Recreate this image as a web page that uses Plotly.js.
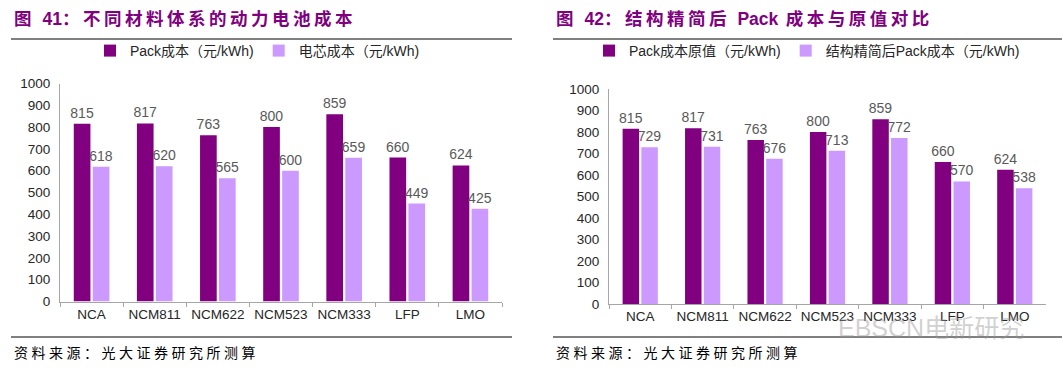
<!DOCTYPE html>
<html>
<head>
<meta charset="utf-8">
<script src="https://cdn.plot.ly/plotly-3.0.1.min.js"></script>
<style>
  html, body { margin: 0; padding: 0; background: #fff; }
  #chart { width: 1062px; height: 376px; }
</style>
</head>
<body>
<div id="chart"></div>
<script>
// ---- data ----
const categories = ['NCA', 'NCM811', 'NCM622', 'NCM523', 'NCM333', 'LFP', 'LMO'];
const packCost = [815, 817, 763, 800, 859, 660, 624];
const cellCost = [618, 620, 565, 600, 659, 449, 425];
const packOriginal = [815, 817, 763, 800, 859, 660, 624];
const packSimplified = [729, 731, 676, 713, 772, 570, 538];

const seriesNames = {
  pack: 'Pack成本（元/kWh)',
  cell: '电芯成本（元/kWh)',
  orig: 'Pack成本原值（元/kWh)',
  simp: '结构精简后Pack成本（元/kWh)'
};
const titleLeft = ['图 ', '41', '：不同材料体系的动力电池成本'];
const titleRight = ['图 ', '42', '：结构精简后 ', 'Pack', ' 成本与原值对比'];
const sourceText = '资料来源：光大证券研究所测算';
const watermark = 'EBSCN电新研究';

// ---- styles ----
const W = 1062, H = 376;
const DARK = '#800080', LIGHT = '#CC99FF';
const FONT = 'Liberation Sans, Arial, Noto Sans CJK SC, sans-serif';
const CJK = 'Noto Sans CJK SC, sans-serif';
const px = v => v / W;
const py = v => 1 - v / H;

function barTrace(y, name, color, xa, ya, legend) {
  return {
    type: 'bar', x: categories, y: y, name: name,
    xaxis: xa, yaxis: ya, legend: legend,
    marker: { color: color, line: { width: 0 } },
    text: y.map(String), textposition: 'outside', cliponaxis: false,
    constraintext: 'none',
    textfont: { family: FONT, size: 14, color: '#595959' },
    hoverinfo: 'skip'
  };
}

const data = [
  barTrace(packCost, seriesNames.pack, DARK, 'x', 'y', 'legend'),
  barTrace(cellCost, seriesNames.cell, LIGHT, 'x', 'y', 'legend'),
  barTrace(packOriginal, seriesNames.orig, DARK, 'x2', 'y2', 'legend2'),
  barTrace(packSimplified, seriesNames.simp, LIGHT, 'x2', 'y2', 'legend2')
];

function xAxis(domain, anchor) {
  return {
    domain: domain, anchor: anchor, type: 'category',
    showline: true, linecolor: '#A6A6A6', linewidth: 1,
    ticks: 'outside', tickson: 'boundaries', ticklen: 4, tickcolor: '#A6A6A6',
    tickfont: { family: FONT, size: 13.5, color: '#262626' },
    showgrid: false, zeroline: false, fixedrange: true
  };
}
function yAxis(domain, anchor) {
  return {
    domain: domain, anchor: anchor, range: [0, 1000], dtick: 100,
    showline: true, linecolor: '#A6A6A6', linewidth: 1,
    ticks: '', ticklabelstandoff: 6,
    tickfont: { family: FONT, size: 13.5, color: '#262626' },
    showgrid: false, zeroline: false, fixedrange: true
  };
}

function lineShape(x0, x1, y) {
  return { type: 'line', xref: 'paper', yref: 'paper', x0: px(x0), x1: px(x1), y0: py(y), y1: py(y),
           line: { color: '#000', width: 1 } };
}
// CJK parts get letter spacing, Latin/digit parts use Arial without spacing
function titleText(parts) {
  return '<b>' + parts.map(p => /[A-Za-z0-9]/.test(p)
      ? '<span style="font-family:Liberation Sans, Arial;letter-spacing:0px">' + p + '</span>'
      : '<span style="letter-spacing:3.5px">' + p + '</span>').join('') + '</b>';
}
function ann(text, x, y, size, color, family) {
  return { xref: 'paper', yref: 'paper', x: px(x), y: py(y), xanchor: 'left', yanchor: 'middle',
           showarrow: false, text: text,
           font: { family: family || CJK, size: size, color: color } };
}

const layout = {
  width: W, height: H,
  margin: { l: 0, r: 0, t: 0, b: 0 },
  paper_bgcolor: '#fff', plot_bgcolor: '#fff',
  barmode: 'group', bargap: 0.4, bargroupgap: 0.12,
  showlegend: true,
  legend: { orientation: 'h', x: px(90), xanchor: 'left', y: py(51), yanchor: 'middle',
            font: { family: FONT, size: 14, color: '#262626' }, itemwidth: 30, bgcolor: 'rgba(0,0,0,0)' },
  legend2: { orientation: 'h', x: px(589), xanchor: 'left', y: py(51), yanchor: 'middle',
             font: { family: FONT, size: 14, color: '#262626' }, itemwidth: 30, bgcolor: 'rgba(0,0,0,0)' },
  xaxis: xAxis([px(60), px(502)], 'y'),
  yaxis: yAxis([py(301.5), py(83.5)], 'x'),
  xaxis2: xAxis([px(609), px(1046)], 'y2'),
  yaxis2: yAxis([py(304), py(89)], 'x2'),
  shapes: [
    lineShape(11, 512, 39), lineShape(553, 1062, 39),
    lineShape(11, 512, 337), lineShape(553, 1062, 337)
  ],
  annotations: [
    ann(titleText(titleLeft), 12, 18, 17.5, DARK),
    ann(titleText(titleRight), 554, 18, 17.5, DARK),
    ann('<span style="letter-spacing:3.5px">' + sourceText + '</span>', 12, 352, 14, '#000'),
    ann('<span style="letter-spacing:3.5px">' + sourceText + '</span>', 554, 352, 14, '#000'),
    ann(watermark, 836, 328, 25, 'rgba(150,150,150,0.45)', FONT)
  ]
};

Plotly.newPlot('chart', data, layout, { staticPlot: true, displayModeBar: false });
</script>
</body>
</html>
